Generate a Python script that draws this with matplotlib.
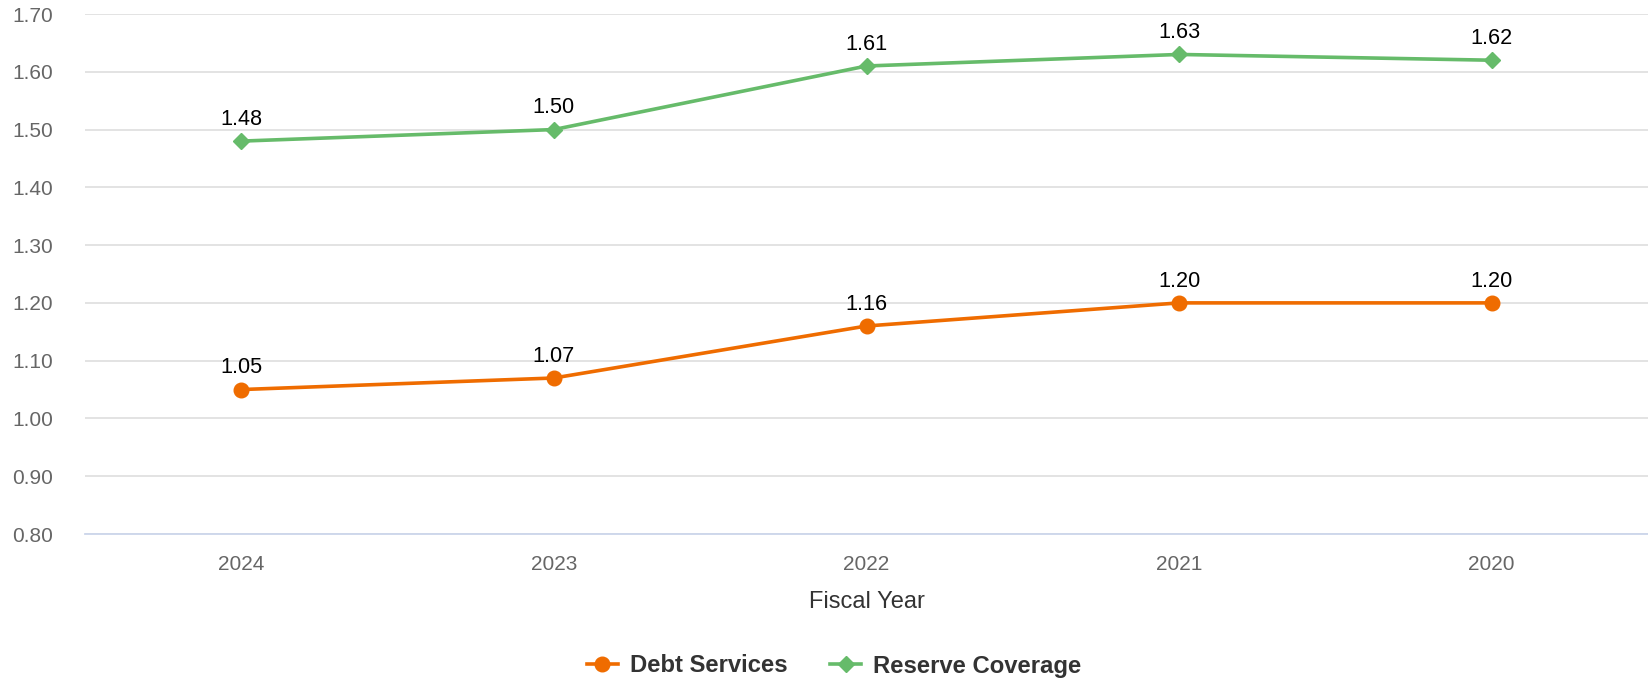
import matplotlib.pyplot as plt

plt.rcParams['font.family'] = ['Liberation Sans', 'DejaVu Sans']

years = ['2024', '2023', '2022', '2021', '2020']
debt_services = [1.05, 1.07, 1.16, 1.20, 1.20]
reserve_coverage = [1.48, 1.50, 1.61, 1.63, 1.62]
y_ticks = [0.80, 0.90, 1.00, 1.10, 1.20, 1.30, 1.40, 1.50, 1.60, 1.70]

orange = '#ef6c00'
green = '#66bb6a'

fig = plt.figure(figsize=(16.48, 6.81), dpi=100)
ax = fig.add_axes([85 / 1648, 1 - 534 / 681, 1 - 85 / 1648, (534 - 14) / 681])

x = list(range(len(years)))
ax.plot(x, debt_services, color=orange, lw=2.6, marker='o', ms=10.5,
        label='Debt Services', zorder=3)
ax.plot(x, reserve_coverage, color=green, lw=2.6, marker='D', ms=8,
        label='Reserve Coverage', zorder=3)

# data labels above each point
for vals in [debt_services, reserve_coverage]:
    for xi, v in zip(x, vals):
        ax.annotate(f'{v:.2f}', (xi, v), xytext=(0, 8), textcoords='offset points',
                    ha='center', va='bottom', fontsize=15.6, color='black')

ax.set_xlim(-0.5, len(years) - 0.5)
ax.set_ylim(0.80, 1.70)
ax.set_xticks(x)
ax.set_xticklabels(years)
ax.set_yticks(y_ticks)
ax.set_yticklabels([f'{t:.2f}' for t in y_ticks])
ax.tick_params(axis='both', length=0, labelsize=15, labelcolor='#666666')
ax.tick_params(axis='y', pad=23)
ax.tick_params(axis='x', pad=15)

ax.grid(axis='y', color='#e0e0e0', lw=1.3)
ax.set_axisbelow(True)
for s in ['top', 'right', 'left']:
    ax.spines[s].set_visible(False)
ax.spines['bottom'].set_color('#ccd6eb')
ax.spines['bottom'].set_linewidth(1.3)

ax.set_xlabel('Fiscal Year', fontsize=17, color='#333333', labelpad=12)

leg = fig.legend(loc='center', bbox_to_anchor=(834 / 1648, 1 - 666 / 681), ncol=2,
                 frameon=False, handlelength=1.3, handletextpad=0.5, columnspacing=1.8,
                 prop={'size': 17.2, 'weight': 'bold'})
for t in leg.get_texts():
    t.set_color('#333333')

fig.savefig('out.png', dpi=100)
